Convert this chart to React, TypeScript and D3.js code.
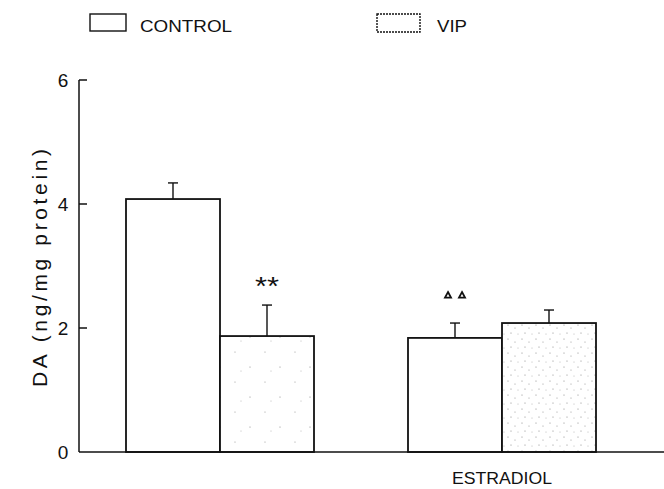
import React from "react";
import * as d3 from "d3";

const WIDTH = 664;
const HEIGHT = 489;

// groups along the x axis (first group has no label)
const groups = ["", "ESTRADIOL"];
const series = ["CONTROL", "VIP"];
// DA (ng/mg protein)
const controlValues = [4.08, 1.84];
const vipValues = [1.87, 2.08];
const controlErr = [0.26, 0.24];
const vipErr = [0.5, 0.21];
// significance marks above bars
const controlMarks = ["", "tri"];
const vipMarks = ["**", ""];
const yTicks = [0, 2, 4, 6];

const FONT = "'Liberation Sans', Arial, sans-serif";

const App = () => {
  const x = d3.scaleBand<string>().domain(groups).range([79, 643]).paddingInner(1 / 3).paddingOuter(1 / 6);
  const xs = d3.scaleBand<string>().domain(series).range([0, x.bandwidth()]);
  const y = d3.scaleLinear().domain([0, 6]).range([452, 80]);

  const rows = groups.map((g, i) => ({
    group: g,
    bars: [
      { s: "CONTROL", v: controlValues[i], e: controlErr[i], mark: controlMarks[i] },
      { s: "VIP", v: vipValues[i], e: vipErr[i], mark: vipMarks[i] },
    ],
  }));

  const tri = (cx: number, cy: number) => `M${cx},${cy - 3} L${cx + 3},${cy + 2.5} L${cx - 3},${cy + 2.5} Z`;

  return (
    <svg width={WIDTH} height={HEIGHT} style={{ position: "absolute", left: 0, top: 0, background: "#fff" }}>
      <defs>
        <pattern id="sparse" width="30" height="30" patternUnits="userSpaceOnUse">
          <rect width="30" height="30" fill="#fff" />
          <circle cx="4" cy="7" r="0.6" fill="#888" />
          <circle cx="19" cy="22" r="0.6" fill="#999" />
          <circle cx="25" cy="11" r="0.5" fill="#aaa" />
        </pattern>
        <pattern id="dense" width="14" height="14" patternUnits="userSpaceOnUse">
          <rect width="14" height="14" fill="#fff" />
          <circle cx="2" cy="3" r="0.6" fill="#888" />
          <circle cx="9" cy="6" r="0.6" fill="#999" />
          <circle cx="5" cy="11" r="0.6" fill="#888" />
          <circle cx="12" cy="12" r="0.5" fill="#aaa" />
        </pattern>
      </defs>

      {/* legend */}
      <rect x={90} y={14} width={36} height={17} fill="#fff" stroke="#111" strokeWidth={1.4} />
      <text x={140} y={32} fontFamily={FONT} fontSize={16} textLength={92} lengthAdjust="spacingAndGlyphs" fill="#111">
        CONTROL
      </text>
      <rect x={377} y={14} width={43} height={18} fill="#fff" stroke="#111" strokeWidth={1.4} strokeDasharray="2,1" />
      <text x={437} y={32} fontFamily={FONT} fontSize={16} textLength={30} lengthAdjust="spacingAndGlyphs" fill="#111">
        VIP
      </text>

      {/* y axis */}
      <line x1={79} x2={79} y1={y(6)} y2={y(0)} stroke="#111" strokeWidth={1.5} />
      {yTicks.map((t) => (
        <g key={t}>
          {t > 0 && <line x1={79} x2={87} y1={y(t)} y2={y(t)} stroke="#111" strokeWidth={1.5} />}
          <text x={63} y={y(t)} dy="0.36em" textAnchor="middle" fontFamily={FONT} fontSize={19} fill="#111">
            {t}
          </text>
        </g>
      ))}
      <text
        transform={`translate(47,${(y(0) + y(6)) / 2 + 2}) rotate(-90)`}
        textAnchor="middle"
        fontFamily={FONT}
        fontSize={21}
        textLength={238}
        lengthAdjust="spacing"
        fill="#111"
      >
        DA (ng/mg protein)
      </text>

      {/* bars */}
      {rows.map((r, gi) => (
        <g key={gi} transform={`translate(${x(r.group)},0)`}>
          {r.bars.map((b) => {
            const bx = xs(b.s) as number;
            const cx = bx + xs.bandwidth() / 2;
            const top = y(b.v + b.e);
            return (
              <g key={b.s}>
                <line x1={cx} x2={cx} y1={y(b.v)} y2={top} stroke="#111" strokeWidth={1.4} />
                <line x1={cx - 5} x2={cx + 5} y1={top} y2={top} stroke="#111" strokeWidth={1.4} />
                <rect
                  x={bx}
                  y={y(b.v)}
                  width={xs.bandwidth()}
                  height={y(0) - y(b.v)}
                  fill={b.s === "VIP" ? (gi === 0 ? "url(#sparse)" : "url(#dense)") : "#fff"}
                  stroke="#111"
                  strokeWidth={1.8}
                />
                {b.mark === "**" && (
                  <text x={cx} y={top - 10} textAnchor="middle" fontFamily={FONT} fontSize={26} textLength={24} lengthAdjust="spacingAndGlyphs" fill="#111">
                    **
                  </text>
                )}
                {b.mark === "tri" && (
                  <g fill="#fff" stroke="#111" strokeWidth={1.8}>
                    <path d={tri(cx - 7, top - 28)} />
                    <path d={tri(cx + 7, top - 28)} />
                  </g>
                )}
              </g>
            );
          })}
          {r.group && (
            <text x={x.bandwidth() / 2} y={484} textAnchor="middle" fontFamily={FONT} fontSize={17} textLength={100} lengthAdjust="spacingAndGlyphs" fill="#111">
              {r.group}
            </text>
          )}
        </g>
      ))}

      {/* x axis */}
      <line x1={79} x2={WIDTH} y1={y(0)} y2={y(0)} stroke="#111" strokeWidth={1.5} />
    </svg>
  );
};

export default App;
